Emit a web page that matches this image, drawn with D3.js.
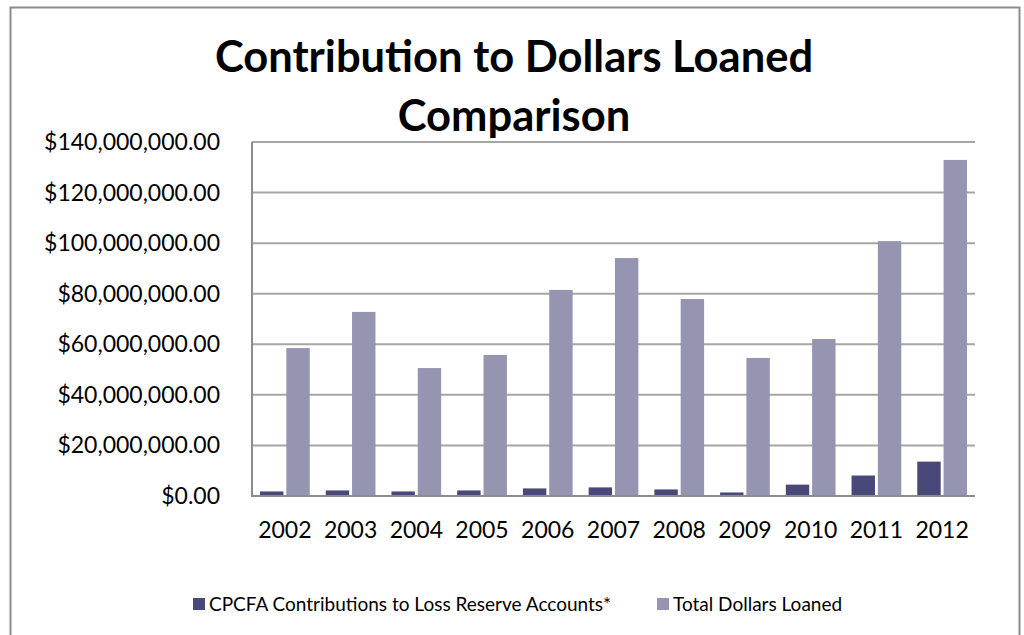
<!DOCTYPE html>
<html>
<head>
<meta charset="utf-8">
<script src="https://cdn.jsdelivr.net/npm/d3@7"></script>
<style>
  body { margin: 0; background: #fff; }
  text { font-family: Lato, "Open Sans", sans-serif; }
</style>
</head>
<body>
<script>
// chart data
var years = ["2002", "2003", "2004", "2005", "2006", "2007", "2008", "2009", "2010", "2011", "2012"];
var contributions = [1.8e6, 2.2e6, 1.8e6, 2.2e6, 3.0e6, 3.4e6, 2.6e6, 1.4e6, 4.5e6, 8.1e6, 13.6e6];
var totalLoaned = [58.5e6, 72.8e6, 50.6e6, 55.8e6, 81.5e6, 94.1e6, 77.9e6, 54.6e6, 62.1e6, 100.8e6, 132.9e6];
var seriesNames = ["CPCFA Contributions to Loss Reserve Accounts*", "Total Dollars Loaned"];
var yTicks = [0, 20e6, 40e6, 60e6, 80e6, 100e6, 120e6, 140e6];

var colors = ["#494979", "#9595b1"];

var width = 1024, height = 635;
var margin = {left: 252, right: 49, top: 142, bottom: 139};

var svg = d3.select("body").append("svg")
    .attr("width", width)
    .attr("height", height);

// outer chart border
svg.append("rect")
    .attr("x", 10.5)
    .attr("y", 7.5)
    .attr("width", 1009)
    .attr("height", 640)
    .attr("fill", "none")
    .attr("stroke", "#8c8c8c")
    .attr("stroke-width", 2);

var x = d3.scaleBand()
    .domain(years)
    .range([margin.left, width - margin.right]);

var x1 = d3.scaleBand()
    .domain([0, 1])
    .range([8, x.bandwidth() - 8])
    .paddingInner(0.11);

var y = d3.scaleLinear()
    .domain([0, 140e6])
    .range([height - margin.bottom, margin.top]);

// gridlines
svg.append("g")
    .selectAll("line")
    .data(yTicks.slice(1))
    .enter().append("line")
    .attr("x1", margin.left)
    .attr("x2", width - margin.right)
    .attr("y1", function(d) { return y(d); })
    .attr("y2", function(d) { return y(d); })
    .attr("stroke", "#a6a6a6")
    .attr("stroke-width", 2);

// y axis labels
var fmt = d3.format("$,.2f");
svg.append("g")
    .selectAll("text")
    .data(yTicks)
    .enter().append("text")
    .attr("x", 220)
    .attr("y", function(d) { return y(d); })
    .attr("dy", "0.35em")
    .attr("text-anchor", "end")
    .attr("font-size", 23)
    .attr("fill", "#000")
    .text(function(d) { return fmt(d); });

// bars
var groups = svg.append("g")
    .selectAll("g")
    .data(years)
    .enter().append("g")
    .attr("transform", function(d) { return "translate(" + x(d) + ",0)"; });

groups.selectAll("rect")
    .data(function(d, i) { return [contributions[i], totalLoaned[i]]; })
    .enter().append("rect")
    .attr("x", function(d, j) { return x1(j); })
    .attr("width", x1.bandwidth())
    .attr("y", function(d) { return y(d); })
    .attr("height", function(d) { return y(0) - y(d); })
    .attr("fill", function(d, j) { return colors[j]; });

// axes lines
svg.append("line")
    .attr("x1", margin.left).attr("x2", margin.left)
    .attr("y1", margin.top).attr("y2", y(0))
    .attr("stroke", "#8c8c8c").attr("stroke-width", 2);
svg.append("line")
    .attr("x1", margin.left - 1).attr("x2", width - margin.right)
    .attr("y1", y(0)).attr("y2", y(0))
    .attr("stroke", "#8c8c8c").attr("stroke-width", 2);

// x labels
svg.append("g")
    .selectAll("text")
    .data(years)
    .enter().append("text")
    .attr("x", function(d) { return x(d) + x.bandwidth() / 2; })
    .attr("y", 538)
    .attr("text-anchor", "middle")
    .attr("font-size", 23)
    .text(function(d) { return d; });

// title
var title = svg.append("text")
    .attr("text-anchor", "middle")
    .attr("font-size", 43.5)
    .attr("font-weight", "bold");
title.append("tspan").attr("x", 514).attr("y", 72).text("Contribution to Dollars Loaned");
title.append("tspan").attr("x", 514).attr("y", 131).text("Comparison");

// legend
var legendX = [193, 657];
var legend = svg.append("g")
    .selectAll("g")
    .data(seriesNames)
    .enter().append("g")
    .attr("transform", function(d, i) { return "translate(" + legendX[i] + ",604)"; });
legend.append("rect")
    .attr("x", 0).attr("y", -6)
    .attr("width", 12).attr("height", 12)
    .attr("fill", function(d, i) { return colors[i]; });
legend.append("text")
    .attr("x", 16)
    .attr("dy", "0.35em")
    .attr("font-size", 19)
    .text(function(d) { return d; });
</script>
</body>
</html>
